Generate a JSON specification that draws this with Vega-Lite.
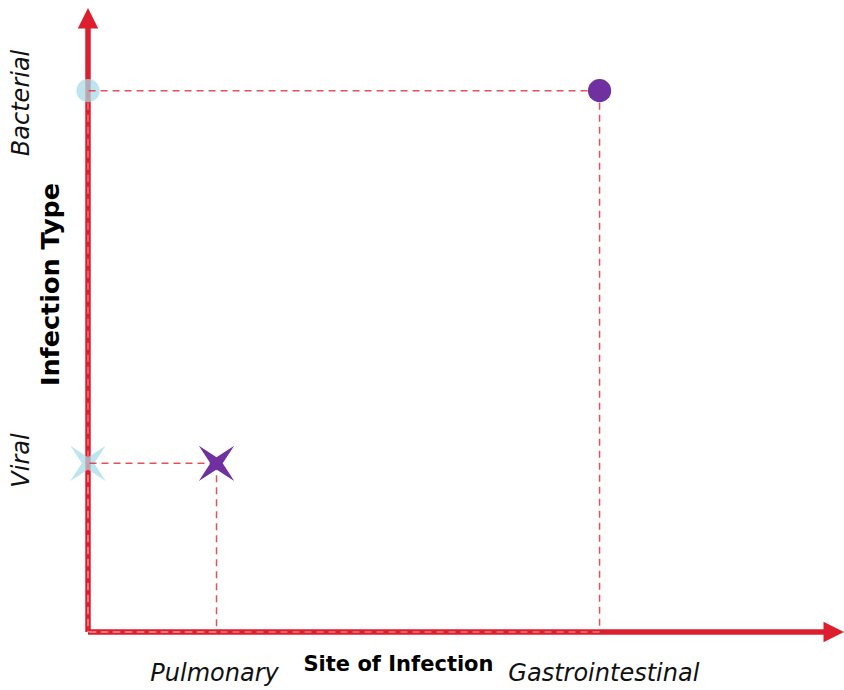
{
  "$schema": "https://vega.github.io/schema/vega-lite/v6.json",
  "width": 756,
  "height": 624,
  "autosize": {"type": "none"},
  "padding": {"left": 88, "top": 8, "right": 0, "bottom": 58},
  "config": {"view": {"stroke": null}, "font": "DejaVu Sans"},
  "datasets": {
    "pts": [
      {"site": "Gastrointestinal", "type": "Bacterial", "x": 4.06, "y": 3.21},
      {"site": "Pulmonary", "type": "Viral", "x": 1.02, "y": 1.0}
    ],
    "axes": [
      {"axis": "x", "x": 0, "y": 0, "x2": 5.92, "y2": 0},
      {"axis": "y", "x": 0, "y": 0, "x2": 0, "y2": 3.6}
    ],
    "heads": [
      {"axis": "x", "x": 6, "y": 0},
      {"axis": "y", "x": 0, "y": 3.7}
    ]
  },
  "layer": [
    {
      "data": {"name": "axes"},
      "mark": {"type": "rule", "color": "#dc1f2e", "strokeWidth": 5.5, "clip": false},
      "encoding": {
        "x": {
          "field": "x", "type": "quantitative",
          "scale": {"domain": [0, 6], "nice": false, "zero": true},
          "axis": {
            "values": [1.0, 4.09],
            "labelExpr": "datum.value < 2 ? 'Pulmonary' : 'Gastrointestinal'",
            "domain": false, "ticks": false, "grid": false,
            "labelFontStyle": "italic", "labelFontSize": 24, "labelColor": "#111111", "labelLimit": 0,
            "labelBaseline": "middle", "labelPadding": 41, "labelFlush": false, "labelOverlap": false,
            "title": "Site of Infection", "titleFontSize": 21, "titleFontWeight": "bold", "titleColor": "#000000",
            "titleX": 310, "titleY": 32, "titleAlign": "center", "titleBaseline": "middle"
          }
        },
        "y": {
          "field": "y", "type": "quantitative",
          "scale": {"domain": [0, 3.7], "nice": false, "zero": true},
          "axis": {
            "values": [1.02, 3.14],
            "labelExpr": "datum.value < 2 ? 'Viral' : 'Bacterial'",
            "domain": false, "ticks": false, "grid": false,
            "labelFontStyle": "italic", "labelFontSize": 24, "labelColor": "#111111", "labelLimit": 0,
            "labelAngle": 270, "labelAlign": "center", "labelBaseline": "middle", "labelPadding": 67,
            "labelFlush": false, "labelOverlap": false,
            "title": "Infection Type", "titleFontSize": 25.5, "titleFontWeight": "bold", "titleColor": "#000000",
            "titleAngle": 270, "titleX": -38, "titleY": 276, "titleAlign": "center", "titleBaseline": "middle"
          }
        },
        "x2": {"field": "x2"},
        "y2": {"field": "y2"}
      }
    },
    {
      "data": {"name": "heads"},
      "transform": [{"filter": "datum.axis === 'x'"}],
      "mark": {"type": "point", "filled": true, "color": "#dc1f2e", "opacity": 1, "size": 420, "clip": false, "shape": "M0,0 L-2,-1 L-2,1 Z"},
      "encoding": {
        "x": {"field": "x", "type": "quantitative"},
        "y": {"field": "y", "type": "quantitative"}
      }
    },
    {
      "data": {"name": "heads"},
      "transform": [{"filter": "datum.axis === 'y'"}],
      "mark": {"type": "point", "filled": true, "color": "#dc1f2e", "opacity": 1, "size": 420, "clip": false, "shape": "M0,0 L1,2 L-1,2 Z"},
      "encoding": {
        "x": {"field": "x", "type": "quantitative"},
        "y": {"field": "y", "type": "quantitative"}
      }
    },
    {
      "data": {"name": "pts"},
      "mark": {"type": "point", "filled": true, "color": "#a8dce8", "opacity": 0.75, "clip": false},
      "encoding": {
        "x": {"datum": 0, "type": "quantitative"},
        "y": {"field": "y", "type": "quantitative"},
        "shape": {
          "field": "type", "type": "nominal", "legend": null,
          "scale": {"domain": ["Bacterial", "Viral"], "range": ["circle", "M-1,-1 L0,-0.35 L1,-1 L0.35,0 L1,1 L0,0.35 L-1,1 L-0.35,0 Z"]}
        },
        "size": {
          "field": "type", "type": "nominal", "legend": null,
          "scale": {"domain": ["Bacterial", "Viral"], "range": [540, 1250]}
        }
      }
    },
    {
      "data": {"name": "pts"},
      "mark": {"type": "rule", "color": "#e0323c", "strokeWidth": 1.5, "strokeDash": [7, 5], "opacity": 0.85},
      "encoding": {
        "x": {"field": "x", "type": "quantitative"},
        "x2": {"datum": 0},
        "y": {"field": "y", "type": "quantitative"}
      }
    },
    {
      "data": {"name": "pts"},
      "mark": {"type": "rule", "color": "#e0323c", "strokeWidth": 1.5, "strokeDash": [7, 5], "opacity": 0.85},
      "encoding": {
        "x": {"field": "x", "type": "quantitative"},
        "y": {"field": "y", "type": "quantitative"},
        "y2": {"datum": 0}
      }
    },
    {
      "data": {"name": "pts"},
      "mark": {"type": "rule", "color": "#f08a90", "strokeWidth": 1.5, "strokeDash": [7, 5], "opacity": 0.8},
      "encoding": {
        "x": {"field": "x", "type": "quantitative"},
        "x2": {"datum": 0},
        "y": {"datum": 0, "type": "quantitative"}
      }
    },
    {
      "data": {"name": "pts"},
      "mark": {"type": "rule", "color": "#f08a90", "strokeWidth": 1.5, "strokeDash": [7, 5], "opacity": 0.8},
      "encoding": {
        "x": {"datum": 0, "type": "quantitative"},
        "y": {"field": "y", "type": "quantitative"},
        "y2": {"datum": 0}
      }
    },
    {
      "data": {"name": "pts"},
      "mark": {"type": "point", "filled": true, "color": "#7030a0", "opacity": 1, "clip": false},
      "encoding": {
        "x": {"field": "x", "type": "quantitative"},
        "y": {"field": "y", "type": "quantitative"},
        "shape": {
          "field": "type", "type": "nominal", "legend": null,
          "scale": {"domain": ["Bacterial", "Viral"], "range": ["circle", "M-1,-1 L0,-0.35 L1,-1 L0.35,0 L1,1 L0,0.35 L-1,1 L-0.35,0 Z"]}
        },
        "size": {
          "field": "type", "type": "nominal", "legend": null,
          "scale": {"domain": ["Bacterial", "Viral"], "range": [540, 1250]}
        }
      }
    }
  ]
}
